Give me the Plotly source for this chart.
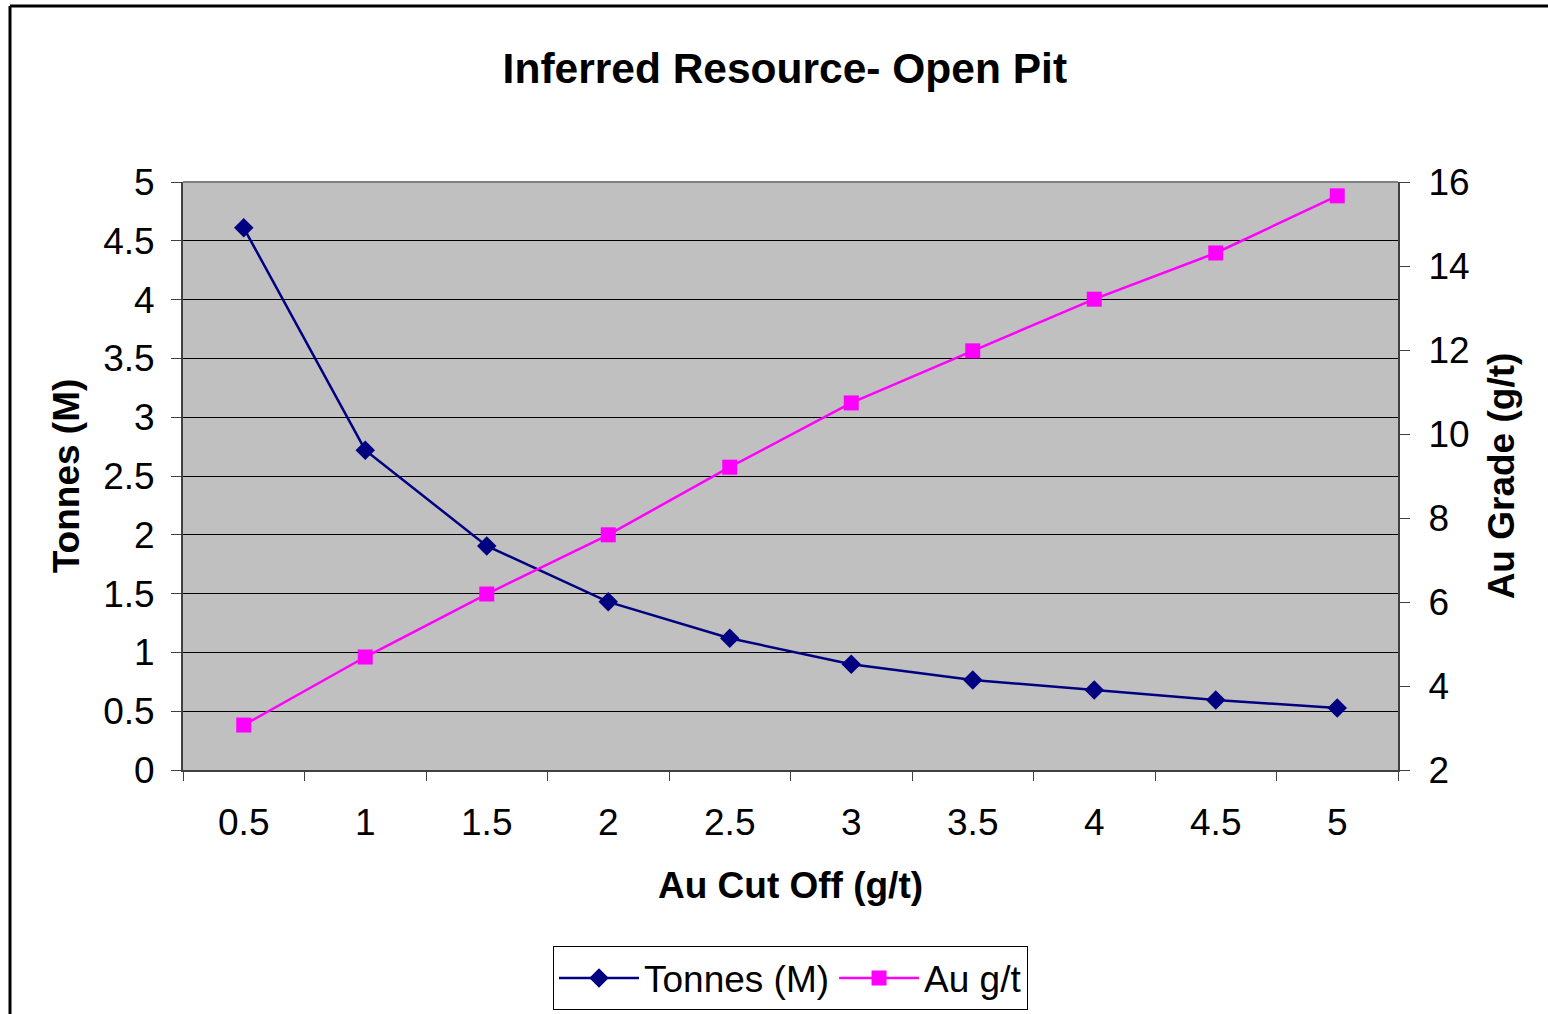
import plotly.graph_objects as go

cut_off = ["0.5", "1", "1.5", "2", "2.5", "3", "3.5", "4", "4.5", "5"]
tonnes_m = [4.61, 2.72, 1.905, 1.43, 1.12, 0.90, 0.765, 0.68, 0.595, 0.527]
au_grade = [3.07, 4.69, 6.19, 7.60, 9.21, 10.74, 11.98, 13.21, 14.31, 15.67]

FONT = "Liberation Sans, Arial, sans-serif"

fig = go.Figure()
fig.add_trace(go.Scatter(
    x=cut_off, y=tonnes_m, name="Tonnes (M)", mode="lines+markers",
    line=dict(color="#000080", width=2.5),
    marker=dict(symbol="diamond", size=15, color="#000080"),
))
fig.add_trace(go.Scatter(
    x=cut_off, y=au_grade, name="Au g/t", mode="lines+markers", yaxis="y2",
    line=dict(color="#FF00FF", width=2.5),
    marker=dict(symbol="square", size=15, color="#FF00FF"),
))

fig.update_layout(
    width=1548, height=1014,
    margin=dict(l=183, r=150, t=182, b=244, autoexpand=False),
    paper_bgcolor="white", plot_bgcolor="#C0C0C0",
    font=dict(family=FONT, color="black", size=37),
    title=dict(text="<b>Inferred Resource- Open Pit</b>", x=0.507, xanchor="center",
               y=1 - 68 / 1014, yanchor="middle", font=dict(size=42.5)),
    xaxis=dict(
        type="category", range=[-0.5, len(cut_off) - 0.5], autorange=False,
        tickson="boundaries", ticks="outside", ticklen=9, automargin=False,
        tickcolor="#404040", showline=True, linecolor="#404040", linewidth=2,
        showgrid=False, mirror=False, ticklabelstandoff=19,
        tickfont=dict(size=37),
        title=dict(text="<b>Au Cut Off (g/t)</b>", font=dict(size=37), standoff=30),
    ),
    yaxis=dict(
        range=[0, 5], dtick=0.5, ticks="outside", ticklen=10, tickcolor="#404040",
        showline=True, linecolor="#404040", linewidth=2, ticklabelstandoff=9,
        showgrid=True, gridcolor="black", gridwidth=1, zeroline=False,
        automargin=False, tickfont=dict(size=37),
        title=dict(text="<b>Tonnes (M)</b>", font=dict(size=37), standoff=12),
    ),
    yaxis2=dict(
        range=[2, 16], dtick=2, overlaying="y", side="right", ticks="outside",
        ticklen=10, tickcolor="#404040", showline=True, linecolor="#404040",
        linewidth=2, showgrid=False, zeroline=False, ticklabelstandoff=11,
        automargin=False, tickfont=dict(size=37),
        title=dict(text="<b>Au Grade (g/t)</b>", font=dict(size=37), standoff=20),
    ),
    legend=dict(
        orientation="h", x=0.5, xanchor="center", y=-0.30, yanchor="top",
        bordercolor="black", borderwidth=1, bgcolor="white",
        itemwidth=80, font=dict(size=37),
    ),
    shapes=[
        dict(type="line", xref="paper", yref="paper",
             x0=(10 - 183) / 1215, x1=(10 - 183) / 1215,
             y0=(770 - 1030) / 588, y1=(770 - 6) / 588,
             line=dict(color="black", width=3)),
        dict(type="line", xref="paper", yref="paper",
             x0=(10 - 183) / 1215, x1=(1560 - 183) / 1215,
             y0=(770 - 6) / 588, y1=(770 - 6) / 588,
             line=dict(color="black", width=3)),
        dict(type="line", xref="paper", yref="paper",
             x0=0, x1=1, y0=1, y1=1,
             line=dict(color="#808080", width=2)),
    ],
)

fig.write_html("out.html", config={"displayModeBar": False},
               post_script="document.body.style.margin='0';")
